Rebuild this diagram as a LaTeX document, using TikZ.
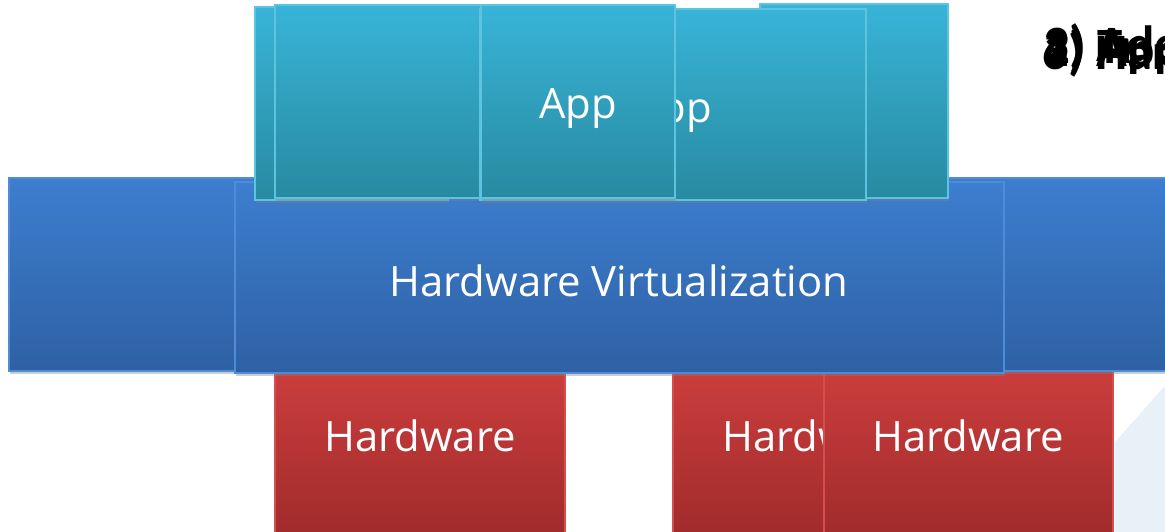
\documentclass[tikz,border=0pt]{standalone}
\usepackage{fontspec}
\setmainfont{Open Sans}
\newfontfamily\notefont{Carlito}
\usetikzlibrary{shadows}

\definecolor{apptop}{HTML}{38B4D8}
\definecolor{appbot}{HTML}{288AA0}
\definecolor{appedge}{HTML}{5CC4DE}
\definecolor{virttop}{HTML}{3D7ECF}
\definecolor{virtbot}{HTML}{2E61A4}
\definecolor{virtedge}{HTML}{4F8BD6}
\definecolor{hwtop}{HTML}{CB3D3D}
\definecolor{hwbot}{HTML}{9E2A2A}
\definecolor{hwedge}{HTML}{D44E4E}
\definecolor{pale}{HTML}{E8F0F8}

\tikzset{
  layer/.style={line width=0.7pt, drop shadow={shadow xshift=0.8pt, shadow yshift=-1.6pt, opacity=0.4}},
  appbox/.style={layer, draw=appedge, top color=apptop, bottom color=appbot},
  virtbox/.style={layer, draw=virtedge, top color=virttop, bottom color=virtbot},
  hwbox/.style={layer, draw=hwedge, top color=hwtop, bottom color=hwbot},
  lbl/.style={text=white, inner sep=0pt, font=\fontsize{23.8}{28}\selectfont},
  stepnote/.style={anchor=base west, inner sep=0pt, font=\notefont\bfseries\fontsize{29}{34}\selectfont}
}

\begin{document}
\begin{tikzpicture}[x=0.02cm, y=-0.02cm]
  \useasboundingbox (0,0) rectangle (1165,531);
  \clip (0,0) rectangle (1165,531);

  % pale corner behind everything
  \fill[pale] (1115,442) -- (1170,380) -- (1170,540) -- (1115,540) -- cycle;

  % hardware row
  \path[hwbox] (275,373) rectangle (565,545);
  \node[lbl] (hw1) at (420,436) {Hardware};
  \path[hwbox] (673,373) rectangle (963,545);
  \node[lbl] (hw2) at (818,436) {Hardware};
  \path[hwbox] (824,371) rectangle (1113,545);
  \node[lbl] (hw3) at (968,436) {Hardware};

  % virtualization layer
  \path[virtbox] (9,178) rectangle (1180,371);
  \path[virtbox] (235,182) rectangle (1004,373);
  \node[lbl] (virt) at (619,281) {Hardware Virtualization};

  % apps on top
  \path[appbox] (255,7) rectangle (448,200);
  \path[appbox] (760,4) rectangle (948,198);
  \path[appbox] (275,5) rectangle (560,198);
  \path[appbox] (480,9) rectangle (866,200);
  \node[lbl] (app2) at (673,113) {App};
  \path[appbox] (481,5) rectangle (675,198);
  \node[lbl] (app1) at (578,109) {App};

  % step notes, stacked
  \node[stepnote] (note1) at (1043,66) {1) App};
  \node[stepnote] (note2) at (1044,63) {2) Tr};
  \node[stepnote] (note3) at (1043,61) {3) Add};
  \node[stepnote] (note6) at (1042,69) {6) Hard};
\end{tikzpicture}
\end{document}
